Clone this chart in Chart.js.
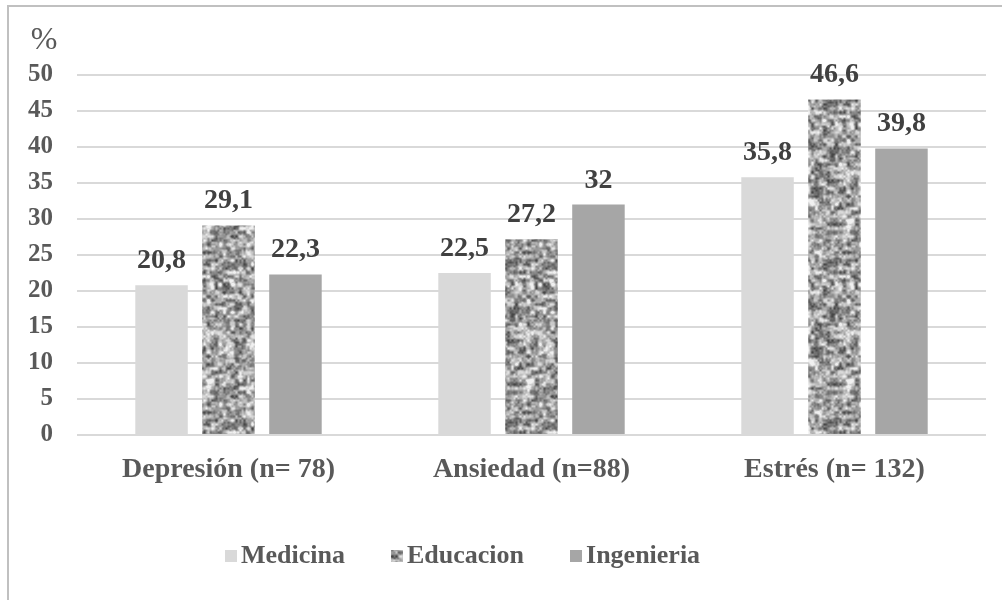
<!DOCTYPE html>
<html>
<head>
<meta charset="utf-8">
<script src="https://cdn.jsdelivr.net/npm/chart.js@4"></script>
<style>
  html, body { margin: 0; padding: 0; background: #ffffff; overflow: hidden; }
  #frame { position: absolute; left: 7px; top: 5px; width: 1100px; height: 700px;
           border-left: 2px solid #c0c0c0; border-top: 2px solid #c0c0c0; }
  #wrap { position: absolute; left: 0; top: 0; width: 1002px; height: 600px; }
</style>
</head>
<body>
<div id="frame"></div>
<div id="wrap"><canvas id="chart" width="1002" height="600"></canvas></div>
<script>
// Categories and series
const categories = ['Depresión (n= 78)', 'Ansiedad (n=88)', 'Estrés (n= 132)'];
const seriesNames = ['Medicina', 'Educacion', 'Ingenieria'];
const medicina = [20.8, 22.5, 35.8];
const educacion = [29.1, 27.2, 46.6];
const ingenieria = [22.3, 32, 39.8];
// Value axis
const yMin = 0;
const yMax = 50;
const yStep = 5;

const SERIF = '"Liberation Serif", "Times New Roman", serif';

// Speckled grey texture for the Educacion bars: seamless value noise from a seeded generator
function makeSpeckle() {
  let seed = 987654;
  const rnd = () => { seed = (seed * 1103515245 + 12345) % 2147483648; return seed / 2147483648; };
  const size = 160;
  const grid = (cells) => {
    const g = [];
    for (let i = 0; i < cells * cells; i++) g.push(rnd());
    return g;
  };
  const sample = (g, cells, x, y) => {
    const fx = x / size * cells, fy = y / size * cells;
    const x0 = Math.floor(fx), y0 = Math.floor(fy);
    const tx = fx - x0, ty = fy - y0;
    const sx = tx * tx * (3 - 2 * tx), sy = ty * ty * (3 - 2 * ty);
    const at = (i, j) => g[((j % cells + cells) % cells) * cells + ((i % cells + cells) % cells)];
    const a = at(x0, y0), b = at(x0 + 1, y0), c = at(x0, y0 + 1), d = at(x0 + 1, y0 + 1);
    return (a * (1 - sx) + b * sx) * (1 - sy) + (c * (1 - sx) + d * sx) * sy;
  };
  const coarse = grid(40), fine = grid(80);
  const tile = document.createElement('canvas');
  tile.width = size; tile.height = size;
  const tctx = tile.getContext('2d');
  const img = tctx.createImageData(size, size);
  for (let y = 0; y < size; y++) {
    for (let x = 0; x < size; x++) {
      let v = 0.7 * sample(coarse, 40, x, y) + 0.3 * sample(fine, 80, x, y);
      v = Math.min(1, Math.max(0, (v - 0.5) * 1.35 + 0.56));
      const g = Math.round(70 + 170 * v);
      const k = (y * size + x) * 4;
      img.data[k] = g; img.data[k + 1] = g; img.data[k + 2] = g; img.data[k + 3] = 255;
    }
  }
  tctx.putImageData(img, 0, 0);
  return document.getElementById('chart').getContext('2d').createPattern(tile, 'repeat');
}
const speckle = makeSpeckle();
const fills = ['#d9d9d9', speckle, '#a6a6a6'];

// Values written above each bar
const barValueLabels = {
  id: 'barValueLabels',
  afterDatasetsDraw(chart) {
    const ctx = chart.ctx;
    ctx.save();
    ctx.font = 'bold 28px ' + SERIF;
    ctx.fillStyle = '#404040';
    ctx.textAlign = 'center';
    ctx.textBaseline = 'alphabetic';
    chart.data.datasets.forEach((ds, di) => {
      chart.getDatasetMeta(di).data.forEach((bar, i) => {
        ctx.fillText(String(ds.data[i]).replace('.', ','), bar.x, bar.y - 17);
      });
    });
    ctx.restore();
  }
};

// Unit mark above the value axis and the legend row
const extras = {
  id: 'extras',
  afterDraw(chart) {
    const ctx = chart.ctx;
    ctx.save();
    ctx.fillStyle = '#595959';
    ctx.font = '32px ' + SERIF;
    ctx.textAlign = 'center';
    ctx.textBaseline = 'alphabetic';
    ctx.fillText('%', 44, 49);

    ctx.font = 'bold 26px ' + SERIF;
    ctx.textAlign = 'left';
    ctx.textBaseline = 'middle';
    let x = 225;
    const yc = 556;
    chart.data.datasets.forEach((ds) => {
      ctx.fillStyle = ds.backgroundColor;
      ctx.fillRect(x, yc - 6, 12, 12);
      ctx.fillStyle = '#595959';
      ctx.fillText(ds.label, x + 16, yc);
      x += 16 + ctx.measureText(ds.label).width + 46;
    });
    ctx.restore();
  }
};

new Chart(document.getElementById('chart'), {
  type: 'bar',
  data: {
    labels: categories,
    datasets: [medicina, educacion, ingenieria].map((vals, i) => ({
      label: seriesNames[i],
      data: vals,
      backgroundColor: fills[i],
      borderWidth: 0,
      categoryPercentage: 0.663,
      barPercentage: 0.784
    }))
  },
  options: {
    responsive: false,
    animation: false,
    layout: { padding: { top: 75, right: 16, bottom: 113, left: 0 } },
    plugins: { legend: { display: false }, tooltip: { enabled: false } },
    scales: {
      x: {
        afterFit(scale) { scale.height = 52; },
        grid: { display: false, drawTicks: false },
        border: { display: false },
        ticks: {
          padding: 18,
          maxRotation: 0,
          color: '#595959',
          font: { family: SERIF, size: 28, weight: 'bold' }
        }
      },
      y: {
        min: yMin,
        max: yMax,
        afterFit(scale) { scale.width = 77; },
        grid: { color: '#d9d9d9', lineWidth: 2, drawTicks: false },
        border: { display: false },
        ticks: {
          stepSize: yStep,
          padding: 24,
          color: '#595959',
          font: { family: SERIF, size: 25, weight: 'bold' }
        }
      }
    }
  },
  plugins: [barValueLabels, extras]
});
</script>
</body>
</html>
